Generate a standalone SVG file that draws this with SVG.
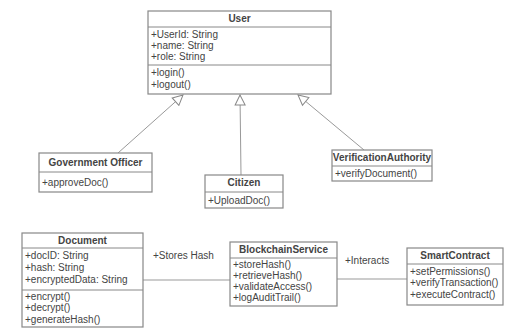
<svg xmlns="http://www.w3.org/2000/svg" width="513" height="329" viewBox="0 0 513 329">
<style>
.box{fill:#fff;stroke:#888;stroke-width:1.2}
.div{stroke:#888;stroke-width:1}
.t{font-family:"Liberation Sans",Arial,sans-serif;font-size:10px;fill:#444}
.b{font-weight:bold;text-anchor:middle}
.ln{stroke:#999;stroke-width:1;fill:none}
</style>
<defs>
<marker id="tri" viewBox="0 0 12 12" refX="11" refY="6" markerWidth="12" markerHeight="12" markerUnits="userSpaceOnUse" orient="auto">
<path d="M1,1 L11,6 L1,11 Z" fill="#fff" stroke="#888" stroke-width="1"/>
</marker>
</defs>
<rect width="513" height="329" fill="#fff"/>
<g id="connectors">
<line class="ln" x1="118" y1="153" x2="183" y2="95" marker-end="url(#tri)"/>
<line class="ln" x1="241" y1="175" x2="240" y2="95" marker-end="url(#tri)"/>
<line class="ln" x1="364" y1="150" x2="298" y2="95" marker-end="url(#tri)"/>
<line class="ln" x1="143" y1="280" x2="230" y2="280"/>
<text class="t" x="153" y="259">+Stores Hash</text>
<line class="ln" x1="337" y1="279" x2="407" y2="279"/>
<text class="t" x="345" y="264">+Interacts</text>
</g>
<g id="User">
<rect class="box" x="148" y="11" width="183" height="83"/>
<text class="t b" x="239.5" y="22">User</text>
<line class="div" x1="148" y1="27" x2="331" y2="27"/>
<text class="t" x="151" y="38">+UserId: String</text>
<text class="t" x="151" y="49">+name: String</text>
<text class="t" x="151" y="60">+role: String</text>
<line class="div" x1="148" y1="65" x2="331" y2="65"/>
<text class="t" x="151" y="76">+login()</text>
<text class="t" x="151" y="88">+logout()</text>
</g>
<g id="GovernmentOfficer">
<rect class="box" x="39" y="153" width="113" height="39"/>
<text class="t b" x="95.5" y="166">Government Officer</text>
<line class="div" x1="39" y1="172" x2="152" y2="172"/>
<text class="t" x="42" y="186">+approveDoc()</text>
</g>
<g id="Citizen">
<rect class="box" x="205" y="175" width="78" height="33"/>
<text class="t b" x="244" y="186">Citizen</text>
<line class="div" x1="205" y1="192" x2="283" y2="192"/>
<text class="t" x="208" y="204">+UploadDoc()</text>
</g>
<g id="VerificationAuthority">
<rect class="box" x="332" y="150" width="100" height="31"/>
<text class="t b" x="382" y="161">VerificationAuthority</text>
<line class="div" x1="332" y1="166" x2="432" y2="166"/>
<text class="t" x="335" y="177">+verifyDocument()</text>
</g>
<g id="Document">
<rect class="box" x="22" y="233" width="121" height="94"/>
<text class="t b" x="82.5" y="244">Document</text>
<line class="div" x1="22" y1="248" x2="143" y2="248"/>
<text class="t" x="25" y="259">+docID: String</text>
<text class="t" x="25" y="271">+hash: String</text>
<text class="t" x="25" y="283">+encryptedData: String</text>
<line class="div" x1="22" y1="290" x2="143" y2="290"/>
<text class="t" x="25" y="300">+encrypt()</text>
<text class="t" x="25" y="311">+decrypt()</text>
<text class="t" x="25" y="323">+generateHash()</text>
</g>
<g id="BlockchainService">
<rect class="box" x="230" y="242" width="107" height="64"/>
<text class="t b" x="283.5" y="253">BlockchainService</text>
<line class="div" x1="230" y1="258" x2="337" y2="258"/>
<text class="t" x="233" y="268">+storeHash()</text>
<text class="t" x="233" y="279">+retrieveHash()</text>
<text class="t" x="233" y="290">+validateAccess()</text>
<text class="t" x="233" y="301">+logAuditTrail()</text>
</g>
<g id="SmartContract">
<rect class="box" x="407" y="248" width="96" height="57"/>
<text class="t b" x="455" y="259">SmartContract</text>
<line class="div" x1="407" y1="264" x2="503" y2="264"/>
<text class="t" x="410" y="275">+setPermissions()</text>
<text class="t" x="410" y="286">+verifyTransaction()</text>
<text class="t" x="410" y="298">+executeContract()</text>
</g>
</svg>
